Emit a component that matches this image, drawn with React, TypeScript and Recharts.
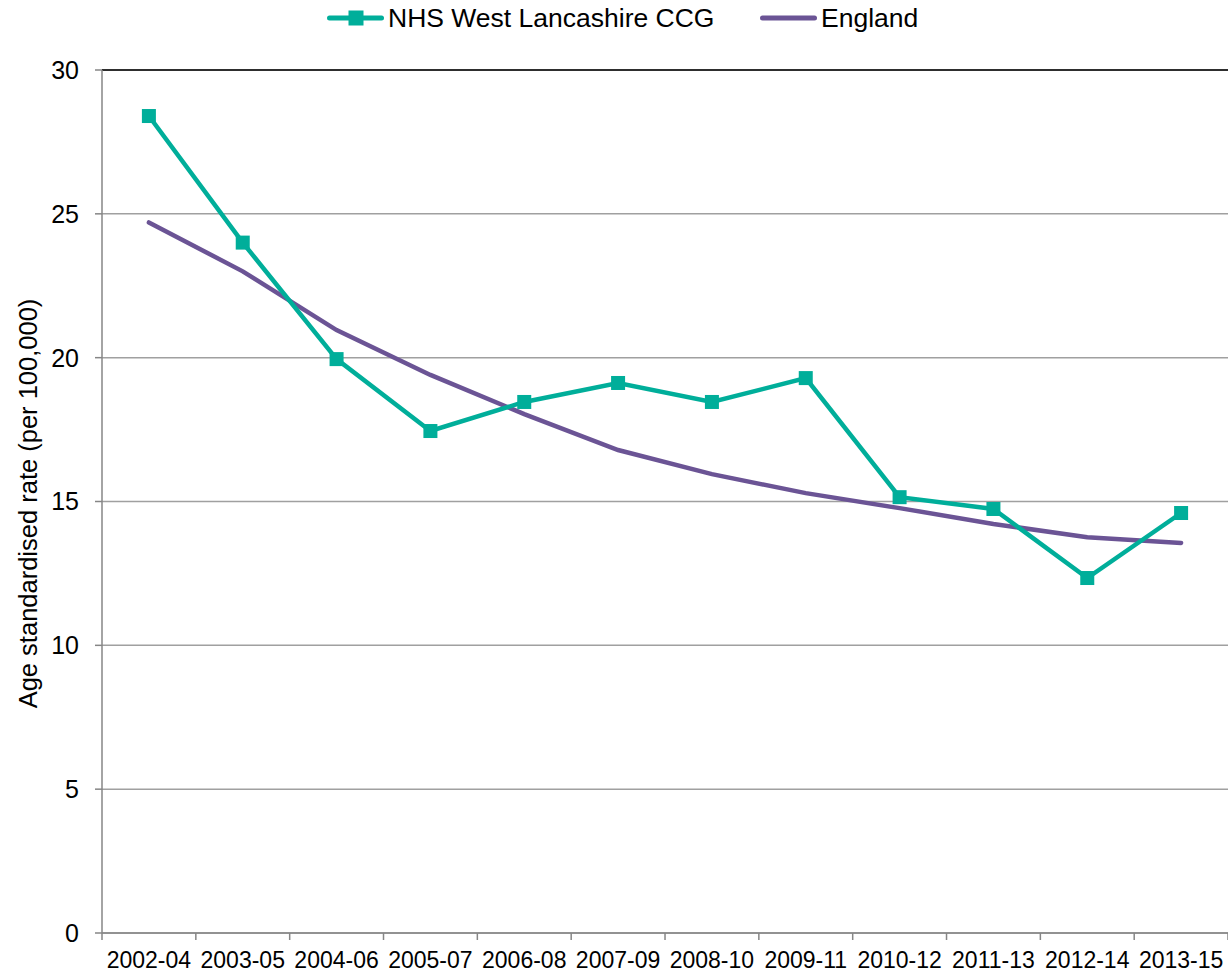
import React from 'react';
import { LineChart, Line, XAxis, YAxis, CartesianGrid, ReferenceLine, Label } from 'recharts';

const periods = ['2002-04', '2003-05', '2004-06', '2005-07', '2006-08', '2007-09', '2008-10', '2009-11', '2010-12', '2011-13', '2012-14', '2013-15'];
const westLancs = [28.4, 24.0, 19.95, 17.45, 18.46, 19.12, 18.46, 19.29, 15.15, 14.74, 12.34, 14.6];
const england = [24.7, 23.0, 20.96, 19.4, 18.04, 16.79, 15.95, 15.29, 14.77, 14.22, 13.76, 13.56];
const yTicks = [0, 5, 10, 15, 20, 25, 30];

const TEAL = '#00AE9A';
const PURPLE = '#6B5495';
const FONT = '"Liberation Sans", Arial, sans-serif';
const HALF = 46.9; // half a category width

const data = periods.map((p, i) => ({ period: p, west: westLancs[i], england: england[i] }));

const XTick = (props: any) => {
  const { x, y, payload, index } = props;
  const top = y - 7;
  return (
    <g>
      <line x1={x - HALF} x2={x - HALF} y1={top} y2={y} stroke="#868686" strokeWidth={1.5} />
      {index === periods.length - 1 && (
        <line x1={x + HALF} x2={x + HALF} y1={top} y2={y} stroke="#868686" strokeWidth={1.5} />
      )}
      <text x={x} y={y + 28} textAnchor="middle" fill="#000" fontSize={23} fontFamily={FONT}>
        {payload.value}
      </text>
    </g>
  );
};

const SquareDot = (p: any) => (
  <rect key={p.index} x={p.cx - 7} y={p.cy - 7} width={14} height={14} fill={TEAL} />
);

const LegendItem = ({ color, marker, text, left }: { color: string; marker: boolean; text: string; left: number }) => (
  <div style={{ position: 'absolute', left, top: 3, display: 'flex', alignItems: 'center' }}>
    <svg width={57} height={16}>
      <line x1={2.5} x2={54.5} y1={8} y2={8} stroke={color} strokeWidth={5} strokeLinecap="round" />
      {marker && <rect x={21.5} y={0.5} width={15} height={15} fill={color} />}
    </svg>
    <span style={{ marginLeft: 4 }}>{text}</span>
  </div>
);

export default function App() {
  return (
    <div style={{ position: 'absolute', left: 0, top: 0, width: 1228, height: 976, background: '#fff' }}>
      <div style={{ fontFamily: FONT, fontSize: 26.5, color: '#000', lineHeight: '30px' }}>
        <LegendItem color={TEAL} marker text="NHS West Lancashire CCG" left={327} />
        <LegendItem color={PURPLE} marker={false} text="England" left={760} />
      </div>
      <LineChart width={1228} height={976} data={data} margin={{ top: 70, right: 0, bottom: 13, left: 0 }}>
        <CartesianGrid vertical={false} stroke="#A0A0A0" strokeWidth={1.5} />
        <ReferenceLine y={30} stroke="#000" strokeWidth={1.5} />
        <XAxis
          dataKey="period"
          height={30}
          padding={{ left: HALF, right: HALF }}
          stroke="#868686"
          strokeWidth={1.5}
          tickLine={false}
          tickSize={7}
          tickMargin={0}
          interval={0}
          tick={<XTick />}
        />
        <YAxis
          width={102}
          domain={[0, 30]}
          ticks={yTicks}
          stroke="#868686"
          strokeWidth={1.5}
          tickSize={7}
          tickMargin={16}
          tick={{ fill: '#000', fontSize: 25, fontFamily: FONT }}
        >
          <Label
            content={() => (
              <text
                transform="translate(37,503.5) rotate(-90)"
                textAnchor="middle"
                fill="#000"
                fontSize={25.5}
                fontFamily={FONT}
              >
                Age standardised rate (per 100,000)
              </text>
            )}
          />
        </YAxis>
        <Line
          type="linear"
          dataKey="england"
          stroke={PURPLE}
          strokeWidth={4.5}
          strokeLinecap="round"
          dot={false}
          activeDot={false}
          isAnimationActive={false}
        />
        <Line
          type="linear"
          dataKey="west"
          stroke={TEAL}
          strokeWidth={4.5}
          dot={SquareDot}
          activeDot={false}
          isAnimationActive={false}
        />
      </LineChart>
    </div>
  );
}
